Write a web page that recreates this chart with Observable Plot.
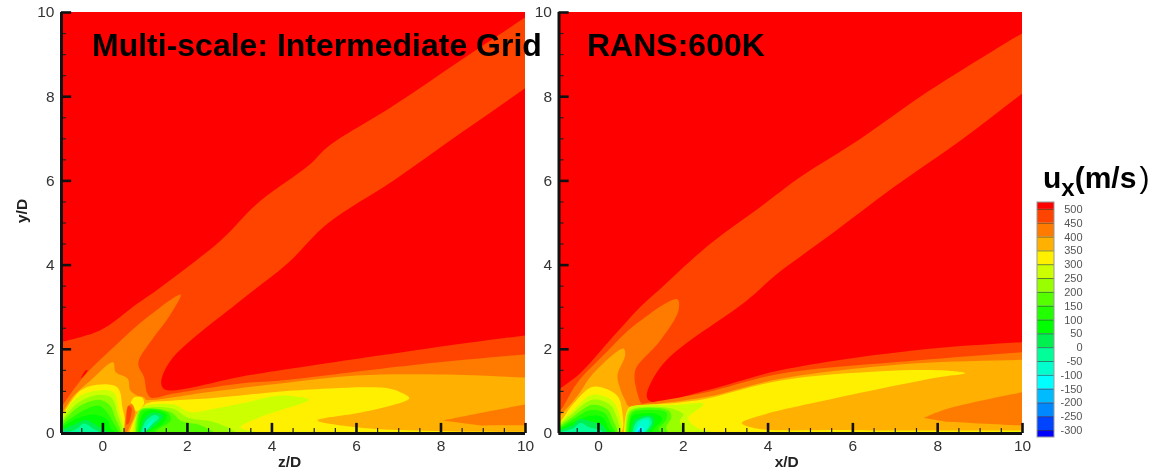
<!DOCTYPE html>
<html>
<head>
<meta charset="utf-8">
<script src="https://cdn.jsdelivr.net/npm/d3@7"></script>
<script src="https://cdn.jsdelivr.net/npm/@observablehq/plot@0.6"></script>
<style>
html,body{margin:0;padding:0;background:#fff;}
#stage{position:relative;width:1158px;height:474px;overflow:hidden;font-family:"Liberation Sans",Arial,sans-serif;}
#stage svg{position:absolute;left:0;top:0;background:transparent;filter:blur(.45px);}
.note{position:absolute;font-weight:bold;color:#000;white-space:nowrap;line-height:1;filter:blur(.3px);}
</style>
</head>
<body>
<div id="stage"></div>
<script>
// Colour bar
const legendLevels = [500,450,400,350,300,250,200,150,100,50,0,-50,-100,-150,-200,-250,-300,-350];
const legendColors = ["#ff0000","#ff4400","#ff7b00","#ffb000","#fff000","#ccff00","#99ff00","#55ff00","#22ff00","#00ff00","#00f050","#00ff99","#00ffcc","#00ffff","#00bbff","#0088ff","#0044ff","#0000ff"];
const legendTicks = [500,450,400,350,300,250,200,150,100,50,0,-50,-100,-150,-200,-250,-300];
const xTickLabels = [0,2,4,6,8,10];
const yTickLabels = [0,2,4,6,8,10];
const xMinorTicks = [-.5,.5,1,1.5,2.5,3,3.5,4.5,5,5.5,6.5,7,7.5,8.5,9,9.5];
const yMinorTicks = [.5,1,1.5,2.5,3,3.5,4.5,5,5.5,6.5,7,7.5,8.5,9,9.5];

// Left panel contours (z/D, y/D); each runs on past the frame so it leaves the panel cleanly
const L450 = [[-1,2.17],[-.06,2.45],[.81,3.08],[1.36,3.47],[2.78,4.58],[3.65,5.46],[4.91,6.4],[5.31,6.8],[6.88,7.79],[8.46,8.86],[10,9.89],[11.5,10.9],[11.5,9.3],[10,8.21],[8.46,7.13],[6.88,6.01],[5.31,4.98],[4.36,4.03],[3.26,3.16],[1.6,1.73],[1.38,1.19],[1.48,1.04],[3.26,1.35],[4.2,1.5],[7.36,1.97],[10,2.33],[11.5,2.5],[11.5,-1],[-2,-1]];
const L400 = [[-1,.6],[-.96,.66],[-.46,1.34],[.34,2.13],[1.05,2.76],[1.84,3.3],[1.56,2.77],[1.21,2.3],[.85,1.74],[.85,1.58],[.97,1.35],[1.05,.95],[1.14,.85],[1.68,.95],[3.26,1.19],[4.2,1.26],[7.36,1.63],[10,1.88],[11.5,2],[11.5,-1],[-2,-1]];
const L350 = [[-1,.45],[-.96,.5],[-.69,.9],[-.29,1.26],[.24,1.69],[.3,1.46],[.59,1.3],[.65,1.02],[.89,.86],[1,.8],[1.21,.8],[2.47,.98],[4.2,1.19],[6,1.38],[8.16,1.4],[10,1.33],[11.5,1.3],[11.5,-1],[-2,-1]];
const L400lobe = [[8.04,.31],[9,.5],[10,.69],[11.5,.95],[11.5,.1],[10,.19],[8.95,.19]];
const L300left = [[-1,.38],[-.96,.44],[-.53,1.02],[-.14,1.16],[.34,1.1],[.46,.63],[.5,0],[-1,0]];
const L300right = [[.6,0],[.97,.68],[1.6,.78],[2.47,.83],[3.26,.9],[4.2,1],[6.58,1.09],[7,1],[7.25,.84],[6.8,.66],[6,.48],[5.08,.31],[6,.15],[7.37,.07],[10,.04],[11.5,.04],[11.5,-1]];
const L250left = [[-1,.32],[-.65,.82],[-.15,1.02],[.25,.98],[.38,.55],[.47,0],[-1,0]];
const L200left = [[-1,.27],[-.6,.72],[-.1,.92],[.2,.85],[.35,.45],[.44,0],[-1,0]];
const L150left = [[-1,.22],[-.6,.62],[-.1,.8],[.15,.68],[.3,.35],[.4,0],[-1,0]];
const L100left = [[-1,.17],[-.55,.5],[-.1,.66],[.1,.5],[.25,.25],[.36,0],[-1,0]];
const L50left = [[-1,.12],[-.6,.36],[-.2,.45],[.1,.32],[.2,.1],[.3,0],[-1,0]];
const L0left = [[-1,.08],[-.7,.2],[-.4,.32],[-.1,.16],[.1,.05],[.2,0],[-1,0]];
const Lm50left = [[-.9,0],[-.6,.12],[-.45,.24],[-.2,.1],[0,0]];
const Lm150left = [[-1,0],[-.98,.04],[-.6,.02],[-.5,0]];
const L250right = [[.7,0],[.85,.6],[1.1,.68],[1.68,.69],[2.07,.51],[2.63,.59],[3.3,.72],[4.2,.9],[4.6,.87],[4.88,.8],[4.2,.55],[3.7,.38],[3.26,.15],[3.6,.05],[5,.02],[5,0]];
const L200right = [[.75,0],[.85,.55],[1.1,.62],[1.68,.58],[2,.38],[2.6,.28],[3,.12],[3.2,0]];
const L150right = [[.78,0],[.88,.55],[1.1,.6],[1.62,.5],[1.85,.3],[2.3,.2],[2.6,.05],[2.7,0]];
const L100right = [[.82,0],[.9,.52],[1.1,.58],[1.55,.48],[1.6,.3],[1.3,.1],[1.2,0]];
const L50right = [[.85,0],[.94,.45],[1.15,.56],[1.5,.44],[1.4,.22],[1.1,.05],[1.05,0]];
const L0right = [[.88,.02],[.98,.35],[1.2,.5],[1.42,.42],[1.25,.2],[1,.03]];
const Lm50right = [[.9,.02],[1.02,.3],[1.22,.44],[1.33,.38],[1.15,.2],[.98,.04]];
const Lm100right = [[.93,.02],[1.06,.22],[1.22,.36],[1.1,.15],[.98,.03]];
const LjetAmber = [[.5,0],[.56,.65],[.66,.85],[.98,.85],[1,.7],[.85,.55],[.62,.02]];
const LjetOrange = [[.51,0],[.58,.62],[.68,.7],[.76,.5],[.58,.05]];
const LjetYellow = [[.66,.74],[.74,.86],[.94,.84],[.97,.7],[.8,.52],[.72,.62]];
const LjetRed = [[.55,.2],[.6,.66],[.68,.6],[.62,.25]];
const LredSpot = [[-.52,1.32],[-.4,1.5],[-.36,1.5],[-.48,1.34]];

// Right panel contours (x/D, y/D)
const R450 = [[-1,1],[-.9,1.07],[-.43,1.43],[.31,2.26],[.98,3],[1.46,3.44],[2.64,4.51],[3.82,5.38],[4.76,6.09],[6.18,7],[7.75,8.11],[9.32,9.1],[10,9.51],[11.5,10.4],[11.5,9.2],[10,8.08],[8.54,6.96],[6.96,5.85],[5.39,4.66],[4.21,3.79],[3.5,3.16],[1.53,1.66],[1.14,.87],[1.26,.75],[2.56,1.03],[4.29,1.5],[7.42,1.97],[10,2.17],[11.5,2.25],[11.5,-1],[-2,-1]];
const R400 = [[-1,.5],[-.9,.55],[-.51,1.19],[.2,1.94],[.9,2.61],[1.86,3.19],[1.89,2.93],[1.45,2.2],[.9,1.58],[.85,1.35],[.92,.95],[1.02,.71],[1.1,.72],[2.56,.98],[4.29,1.42],[7.42,1.73],[10,1.93],[11.5,2.02],[11.5,-1],[-2,-1]];
const R350 = [[-1,.38],[-.9,.44],[-.51,.87],[-.12,1.43],[.59,2.02],[.63,1.86],[.45,1.39],[.51,1.07],[.63,.79],[.71,.65],[1.06,.67],[2.56,.87],[4.29,1.3],[7.42,1.66],[10,1.75],[11.5,1.78],[11.5,-1],[-2,-1]];
const R400lobe = [[7.68,.37],[8.21,.58],[10,.98],[11.5,1.25],[11.5,.12],[10,.19],[8.21,.28]];
const R300left = [[-1,.22],[-.9,.28],[-.59,.71],[-.12,1.11],[.43,.91],[.55,.59],[.51,0],[-1,0]];
const R300right = [[.6,0],[.71,.6],[.98,.67],[1.77,.72],[2.56,.83],[4.29,1.26],[6.64,1.48],[8.06,1.5],[8.65,1.43],[8.06,1.34],[6.64,1.06],[4.29,.55],[3.97,.47],[3.38,.25],[3.73,.12],[6,.08],[10,.07],[11.5,.07],[11.5,-1]];
const R250left = [[-1,.17],[-.6,.55],[-.15,.92],[.3,.8],[.48,.5],[.5,0],[-1,0]];
const R200left = [[-1,.14],[-.6,.48],[-.15,.8],[.25,.7],[.42,.42],[.47,0],[-1,0]];
const R150left = [[-1,.11],[-.6,.4],[-.15,.68],[.2,.58],[.35,.3],[.43,0],[-1,0]];
const R100left = [[-1,.08],[-.6,.33],[-.2,.55],[.15,.48],[.3,.2],[.4,0],[-1,0]];
const R50left = [[-1,.06],[-.6,.26],[-.2,.42],[.1,.38],[.25,.1],[.35,0],[-1,0]];
const R0left = [[-1,.05],[-.6,.2],[-.45,.34],[-.15,.28],[.1,.2],[.2,.05],[.28,0],[-1,0]];
const Rm50left = [[-1,.02],[-.6,.12],[-.42,.25],[-.2,.14],[.05,.08],[.15,0],[-1,0]];
const R250right = [[.62,0],[.68,.55],[.8,.65],[1.8,.68],[2.48,.7],[2.12,.36],[2.36,.12],[2.7,.04],[10,.04],[11.5,.04],[11.5,-1]];
const R200right = [[.64,0],[.7,.5],[.85,.6],[1.7,.6],[2,.45],[1.92,.3],[2.05,.05],[2.1,0]];
const R150right = [[.66,0],[.72,.45],[.85,.57],[1.65,.55],[1.72,.38],[1.6,.15],[1.65,0]];
const R100right = [[.7,0],[.78,.47],[.9,.54],[1.6,.5],[1.58,.3],[1.42,.12],[1.48,0]];
const R50right = [[.72,0],[.8,.42],[1,.47],[1.35,.47],[1.5,.35],[1.3,.1],[1.25,0]];
const R0right = [[.76,0],[.85,.32],[1.25,.42],[1.32,.28],[1.2,.05],[1.15,0]];
const Rm50right = [[.8,0],[.9,.28],[1.2,.38],[1.26,.25],[1.12,.03],[1.1,0]];
const Rm100right = [[.86,.02],[.97,.28],[1.17,.33],[1.2,.22],[1.07,.02]];
const Rm150right = [[.88,.02],[.98,.17],[1.07,.1],[1.03,.02]];
const Rm200right = [[.9,.01],[.98,.1],[1.03,.06],[1,.01]];

// Painter's order: [contour band lower bound, polygon]
const leftLayers = [[450,L450],[400,L400],[350,L350],[400,L400lobe],[300,L300left],[300,L300right],
  [250,L250left],[200,L200left],[150,L150left],[100,L100left],[50,L50left],[0,L0left],[-50,Lm50left],[-200,Lm150left],
  [250,L250right],[200,L200right],[150,L150right],[100,L100right],[50,L50right],[0,L0right],[-50,Lm50right],[-100,Lm100right],
  [350,LjetAmber],[300,LjetYellow],[400,LjetOrange],[450,LjetRed],[500,LredSpot]];
const rightLayers = [[450,R450],[400,R400],[350,R350],[400,R400lobe],[300,R300left],[300,R300right],
  [250,R250left],[200,R200left],[150,R150left],[100,R100left],[50,R50left],[0,R0left],[-50,Rm50left],
  [250,R250right],[200,R200right],[150,R150right],[100,R100right],[50,R50right],[0,R0right],[-50,Rm50right],[-100,Rm100right],[-150,Rm150right],[-200,Rm200right]];

const bandColor = l => legendColors[legendLevels.indexOf(l)];
const W = 1158, H = 474;
const FONT = '"Liberation Sans",Arial,sans-serif';

function panel({layers, xMin, left, right, xTitle, yTitle}) {
  const marks = [
    Plot.rect([0],{x1:xMin,x2:10,y1:0,y2:10,fill:"#ff0000"}),
    ...layers.map(([level,pts]) => Plot.line(pts,{x:d=>d[0],y:d=>d[1],fill:bandColor(level),stroke:"none",clip:true,curve:"catmull-rom"})),
    Plot.ruleX(xMinorTicks,{y1:0,y2:.12,stroke:"#222",strokeWidth:1.2}),
    Plot.ruleX(xTickLabels,{y1:0,y2:.24,stroke:"#111",strokeWidth:2.6}),
    Plot.ruleY(yMinorTicks,{x1:xMin,x2:xMin+.12,stroke:"#222",strokeWidth:1.2}),
    Plot.ruleY(yTickLabels,{x1:xMin,x2:xMin+.24,stroke:"#111",strokeWidth:2.6}),
    Plot.ruleX([xMin],{y1:0,y2:10,stroke:"#111",strokeWidth:3}),
    Plot.ruleY([0],{x1:xMin,x2:10,stroke:"#111",strokeWidth:3}),
    Plot.axisX({ticks:xTickLabels,tickSize:0,tickPadding:6,label:null,fontSize:15.5,color:"#333",tickFormat:d=>String(d)}),
    Plot.axisY({ticks:yTickLabels,tickSize:0,tickPadding:7,label:null,fontSize:15.5,color:"#333",tickFormat:d=>String(d)}),
    Plot.text([xTitle],{frameAnchor:"bottom",dx:-4,dy:33,fontSize:15.5,fontWeight:"bold",fill:"#222"})
  ];
  if (yTitle) marks.push(Plot.text([yTitle],{frameAnchor:"left",rotate:-90,dx:-39,fontSize:15.5,fontWeight:"bold",fill:"#222"}));
  return Plot.plot({
    width:W,height:H,marginLeft:left,marginRight:W-right,marginTop:12,marginBottom:H-433,
    style:{fontFamily:FONT,background:"transparent"},
    x:{domain:[xMin,10]},y:{domain:[0,10]},
    marks
  });
}

const legendRows = legendLevels.map((v,i)=>({y1:Math.max(v,-325),y2:Math.min(v+50,525),fill:legendColors[i]}));
const legend = Plot.plot({
  width:W,height:H,marginLeft:1037,marginRight:W-1054,marginTop:202,marginBottom:H-437,
  style:{fontFamily:FONT,background:"transparent"},
  x:{domain:[0,1],axis:null},
  y:{domain:[-325,525]},
  marks:[
    Plot.rect(legendRows,{x1:0,x2:1,y1:"y1",y2:"y2",fill:"fill"}),
    Plot.ruleY(legendTicks,{x1:0,x2:1,stroke:"#333",strokeOpacity:.6,strokeWidth:1}),
    Plot.rect([0],{x1:0,x2:1,y1:-325,y2:525,fill:"none",stroke:"#999",strokeWidth:1}),
    Plot.axisY({anchor:"right",ticks:legendTicks,tickSize:0,tickPadding:28,label:null,fontSize:11,color:"#555",textAnchor:"end",tickFormat:d=>String(d)})
  ]
});

const stage = document.getElementById("stage");
stage.append(
  panel({layers:leftLayers,xMin:-.98,left:61,right:525,xTitle:"z/D",yTitle:"y/D"}),
  panel({layers:rightLayers,xMin:-.93,left:558.5,right:1022,xTitle:"x/D"}),
  legend
);
function note(html,x,y,size){
  const d=document.createElement("div");
  d.className="note";d.innerHTML=html;
  d.style.left=x+"px";d.style.top=y+"px";d.style.fontSize=size+"px";
  stage.append(d);
}
note("Multi-scale: Intermediate Grid",92,29,32);
note("RANS:600K",587,29,32);
note('u<sub style="font-size:24px;vertical-align:-8px;line-height:0">x</sub>(m/s<span style="font-weight:normal;margin-left:3px">)</span>',1043,163,30);
</script>
</body>
</html>
